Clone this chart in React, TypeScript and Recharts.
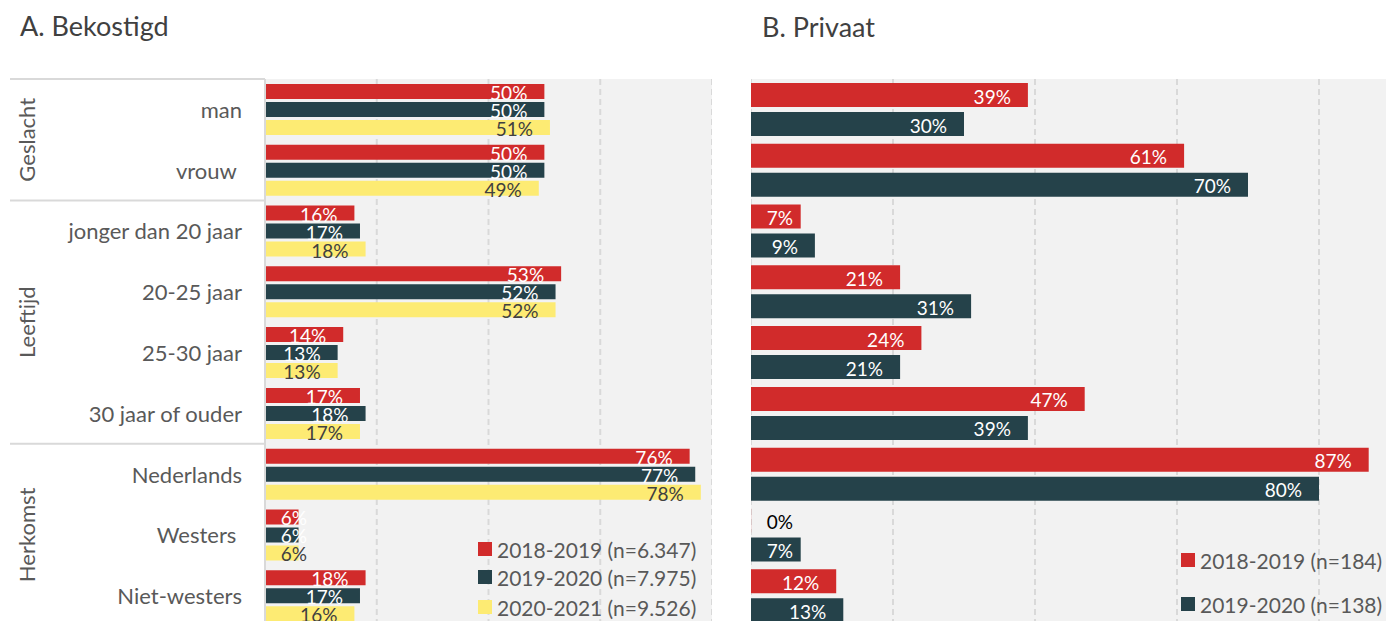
import React from 'react';
import { BarChart, Bar, XAxis, YAxis, CartesianGrid } from 'recharts';

// categories and their group (left axis)
const categories = ['man', 'vrouw ', 'jonger dan 20 jaar', '20-25 jaar', '25-30 jaar', '30 jaar of ouder', 'Nederlands', 'Westers ', 'Niet-westers'];
const groupOf = ['Geslacht', 'Geslacht', 'Leeftijd', 'Leeftijd', 'Leeftijd', 'Leeftijd', 'Herkomst', 'Herkomst', 'Herkomst'];

// A. Bekostigd
const bek2018 = [50, 50, 16, 53, 14, 17, 76, 6, 18];
const bek2019 = [50, 50, 17, 52, 13, 18, 77, 6, 17];
const bek2020 = [51, 49, 18, 52, 13, 17, 78, 6, 16];

// B. Privaat
const priv2018 = [39, 61, 7, 21, 24, 47, 87, 0, 12];
const priv2019 = [30, 70, 9, 31, 21, 39, 80, 7, 13];

const leftTicks = [0, 20, 40, 60, 80];
const rightTicks = [0, 20, 40, 60, 80];

const legendLeft = ['2018-2019 (n=6.347)', '2019-2020 (n=7.975)', '2020-2021 (n=9.526)'];
const legendRight = ['2018-2019 (n=184)', '2019-2020 (n=138)'];

const RED = '#D12B2B';
const DARK = '#25424A';
const YELLOW = '#FDEB73';
const GRID = '#D9D9D9';
const TEXT = '#595959';
const FONT = 'Lato, "Open Sans", sans-serif';

const PLOT_TOP = 79;
const PLOT_H = 547;
const Y_AXIS_W = 265;
const band = PLOT_H / categories.length;

const leftData = categories.map((name, i) => ({ name, a: bek2018[i], b: bek2019[i], c: bek2020[i] }));
const rightData = categories.map((name, i) => ({ name, a: priv2018[i], b: priv2019[i] }));

// zero values still need a (invisible) bar so the label gets drawn
const minSize = (v: number) => (v === 0 ? 0.1 : 0);

const renderLabel = (fill: string) => (props: any) => {
  const { x, y, width, height, value } = props;
  const text = `${value}%`;
  const w = (text.length - 1) * 11 + 15;
  const right = Math.max(x + width - 17, x + 16 + w);
  return (
    <text x={right} y={y + height / 2 + 1} textAnchor="end" dominantBaseline="central"
      fill={value === 0 ? '#000000' : fill} fontSize={19} fontFamily={FONT}>
      {text}
    </text>
  );
};

const CatTick = (props: any) => {
  const { y, payload, index } = props;
  const group = groupOf[index];
  const isFirst = index === 0 || groupOf[index - 1] !== group;
  const size = groupOf.filter(g => g === group).length;
  const top = y - band / 2;
  const gy = top + (size * band) / 2;
  return (
    <g>
      <text x={Y_AXIS_W - 23} y={y} textAnchor="end" dominantBaseline="central" fill={TEXT}
        fontSize={22} fontFamily={FONT} style={{ whiteSpace: 'pre' }}>
        {payload.value}
      </text>
      {isFirst && (
        <>
          <line x1={10} x2={Y_AXIS_W} y1={top} y2={top} stroke={GRID} strokeWidth={2} />
          <text x={27} y={gy} textAnchor="middle" dominantBaseline="central" fill={TEXT}
            fontSize={22} fontFamily={FONT} transform={`rotate(-90, 27, ${gy})`}>
            {group}
          </text>
        </>
      )}
    </g>
  );
};

const LegendRow = ({ color, label, left, top }: { color: string; label: string; left: number; top: number }) => (
  <div style={{ position: 'absolute', left, top, display: 'flex', alignItems: 'center', height: 24 }}>
    <div style={{ width: 14, height: 14, background: color, marginRight: 5 }} />
    <span style={{ fontSize: 21, color: TEXT, fontFamily: FONT, whiteSpace: 'nowrap' }}>{label}</span>
  </div>
);

export default function App() {
  const legendColors = [RED, DARK, YELLOW];
  return (
    <div style={{ position: 'fixed', left: 0, top: 0, width: 1386, height: 621, overflow: 'hidden', background: '#fff', fontFamily: FONT }}>
      <div style={{ position: 'absolute', left: 20, top: 10, fontSize: 27, color: '#404040', lineHeight: '32px' }}>A. Bekostigd</div>
      <div style={{ position: 'absolute', left: 762, top: 11, fontSize: 27, color: '#404040', lineHeight: '32px' }}>B. Privaat</div>

      <div style={{ position: 'absolute', left: 0, top: 0 }}>
        <BarChart width={Y_AXIS_W + 447} height={PLOT_TOP + PLOT_H} data={leftData} layout="vertical"
          margin={{ top: PLOT_TOP, right: 0, bottom: 0, left: 0 }} barGap={3}>
          <CartesianGrid horizontal={false} strokeDasharray="6 4" stroke={GRID} strokeWidth={2} fill="#F2F2F2" />
          <XAxis type="number" domain={[0, 80]} ticks={leftTicks} hide />
          <YAxis type="category" dataKey="name" width={Y_AXIS_W} tickLine={false}
            axisLine={{ stroke: GRID, strokeWidth: 2 }} tick={<CatTick />} interval={0} />
          <Bar dataKey="a" fill={RED} barSize={15} isAnimationActive={false} label={renderLabel('#ffffff')} />
          <Bar dataKey="b" fill={DARK} barSize={15} isAnimationActive={false} label={renderLabel('#ffffff')} />
          <Bar dataKey="c" fill={YELLOW} barSize={15} isAnimationActive={false} label={renderLabel('#404040')} />
        </BarChart>
      </div>

      <div style={{ position: 'absolute', left: 751, top: 0 }}>
        <BarChart width={639} height={PLOT_TOP + PLOT_H} data={rightData} layout="vertical"
          margin={{ top: PLOT_TOP, right: 0, bottom: 0, left: 0 }} barGap={5}>
          <CartesianGrid horizontal={false} strokeDasharray="6 4" stroke={GRID} strokeWidth={2} fill="#F2F2F2" />
          <XAxis type="number" domain={[0, 90]} ticks={rightTicks} hide />
          <YAxis type="category" dataKey="name" hide />
          <Bar dataKey="a" fill={RED} barSize={24} minPointSize={minSize} isAnimationActive={false} label={renderLabel('#ffffff')} />
          <Bar dataKey="b" fill={DARK} barSize={24} isAnimationActive={false} label={renderLabel('#ffffff')} />
        </BarChart>
      </div>

      {legendLeft.map((l, i) => (
        <LegendRow key={l} color={legendColors[i]} label={l} left={478} top={[537, 565, 595][i]} />
      ))}
      {legendRight.map((l, i) => (
        <LegendRow key={l} color={legendColors[i]} label={l} left={1181} top={[548, 592][i]} />
      ))}
    </div>
  );
}
